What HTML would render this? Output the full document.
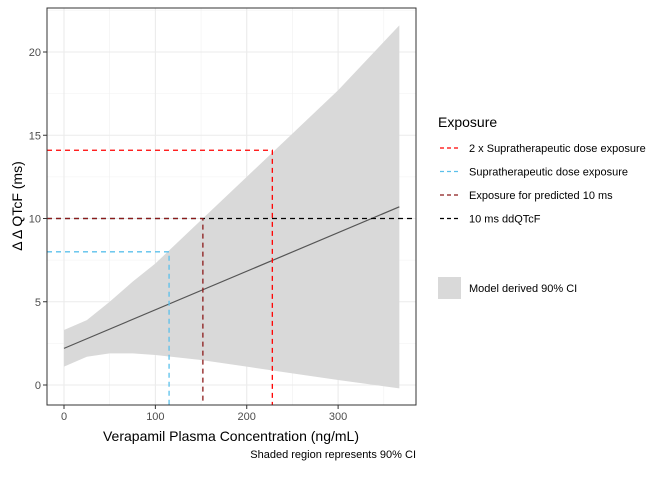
<!DOCTYPE html>
<html><head><meta charset="utf-8"><style>
body{margin:0;background:#fff;font-family:"Liberation Sans",sans-serif}
</style></head><body>
<svg id="c" width="672" height="480" xmlns="http://www.w3.org/2000/svg"></svg>
<script>
const bandX=[0,25,50,75,100,150,200,250,300,367];
const bandLower=[1.1,1.7,1.9,1.9,1.8,1.5,1.1,0.7,0.3,-0.2];
const bandUpper=[3.3,3.9,5.0,6.2,7.3,9.9,12.5,15.1,17.7,21.6];
const lineX=[0,367];
const lineY=[2.2,10.7];
const xTicks=[0,100,200,300];
const yTicks=[0,5,10,15,20];
const refRed={x:228,y:14.1};
const refBlue={x:115,y:8};
const refDark={x:152,y:10};
const refBlackY=10;
const legendLabels=["2 x Supratherapeutic dose exposure","Supratherapeutic dose exposure","Exposure for predicted 10 ms","10 ms ddQTcF"];
const legendColors=["#ff0000","#5bc0eb","#8b1a1a","#000000"];

const L=47,R=416,T=8,B=405;
const sx=v=>64+v*0.9137;
const sy=v=>385-v*16.65;
const svg=document.getElementById('c');
const NS="http://www.w3.org/2000/svg";
function el(t,a,p){const e=document.createElementNS(NS,t);for(const k in a)e.setAttribute(k,a[k]);(p||svg).appendChild(e);return e;}

const panel=el('rect',{x:L,y:T,width:R-L,height:B-T,fill:'#fff'});


for(let i=0;i<xTicks.length;i++){const m=el('line',{x1:sx(xTicks[i]+50),x2:sx(xTicks[i]+50),y1:T,y2:B,stroke:'#f0f0f0','stroke-width':0.6});}
for(let i=0;i<yTicks.length;i++){const m=el('line',{x1:L,x2:R,y1:sy(yTicks[i]+2.5),y2:sy(yTicks[i]+2.5),stroke:'#f0f0f0','stroke-width':0.6});}
xTicks.forEach(v=>{const g=el('line',{x1:sx(v),x2:sx(v),y1:T,y2:B,stroke:'#ebebeb','stroke-width':1.1});
const t=el('line',{x1:sx(v),x2:sx(v),y1:B,y2:B+4,stroke:'#333'});
const tx=el('text',{x:sx(v),y:B+15,'font-size':11,fill:'#4d4d4d','text-anchor':'middle'});tx.textContent=v;});
yTicks.forEach(v=>{const g=el('line',{x1:L,x2:R,y1:sy(v),y2:sy(v),stroke:'#ebebeb','stroke-width':1.1});
const t=el('line',{x1:L-4,x2:L,y1:sy(v),y2:sy(v),stroke:'#333'});
const tx=el('text',{x:L-6,y:sy(v)+4,'font-size':11,fill:'#4d4d4d','text-anchor':'end'});tx.textContent=v;});
let d='M'+bandX.map((x,i)=>sx(x)+','+sy(bandUpper[i])).join(' L');
for(let i=bandX.length-1;i>=0;i--)d+=' L'+sx(bandX[i])+','+sy(bandLower[i]);
const band=el('path',{d:d+'Z',fill:'#d9d9d9'});


const ln=el('line',{x1:sx(lineX[0]),y1:sy(lineY[0]),x2:sx(lineX[1]),y2:sy(lineY[1]),stroke:'#555','stroke-width':1.2});


function ref(r,c,n){const p=el('path',{d:`M${L},${sy(r.y)} H${sx(r.x)} V${B}`,fill:'none',stroke:c,'stroke-width':1.3,'stroke-dasharray':'5,4'});}
ref(refBlue,'#5bc0eb','supratherapeutic-ref-line');
ref(refRed,'#ff0000','2x-supratherapeutic-ref-line');
const bk=el('line',{x1:L,x2:R,y1:sy(refBlackY),y2:sy(refBlackY),stroke:'#000','stroke-width':1.3,'stroke-dasharray':'5,4'});


ref(refDark,'#8b1a1a','predicted-10ms-ref-line');
const bd=el('rect',{x:L,y:T,width:R-L,height:B-T,fill:'none',stroke:'#333','stroke-width':1});


const xt=el('text',{x:231,y:441,'font-size':14,fill:'#000','text-anchor':'middle'});xt.textContent='Verapamil Plasma Concentration (ng/mL)';


const yt=el('text',{x:0,y:0,'font-size':14,fill:'#000','text-anchor':'middle',transform:'translate(22,206) rotate(-90)'});yt.textContent='Δ Δ QTcF (ms)';


const cap=el('text',{x:416,y:458,'font-size':11,fill:'#000','text-anchor':'end'});cap.textContent='Shaded region represents 90% CI';


const lt=el('text',{x:438,y:127,'font-size':14,fill:'#000'});lt.textContent='Exposure';


legendLabels.forEach((s,i)=>{const y=148+i*23.5;
const k=el('line',{x1:440,x2:458,y1:y,y2:y,stroke:legendColors[i],'stroke-width':1.3,'stroke-dasharray':'4,3'});
const t=el('text',{x:469,y:y+4,'font-size':11,fill:'#000'});t.textContent=s;});
const fk=el('rect',{x:438,y:277,width:23,height:22,fill:'#d9d9d9'});


const ft=el('text',{x:469,y:292,'font-size':11,fill:'#000'});ft.textContent='Model derived 90% CI';


</script>
</body></html>
